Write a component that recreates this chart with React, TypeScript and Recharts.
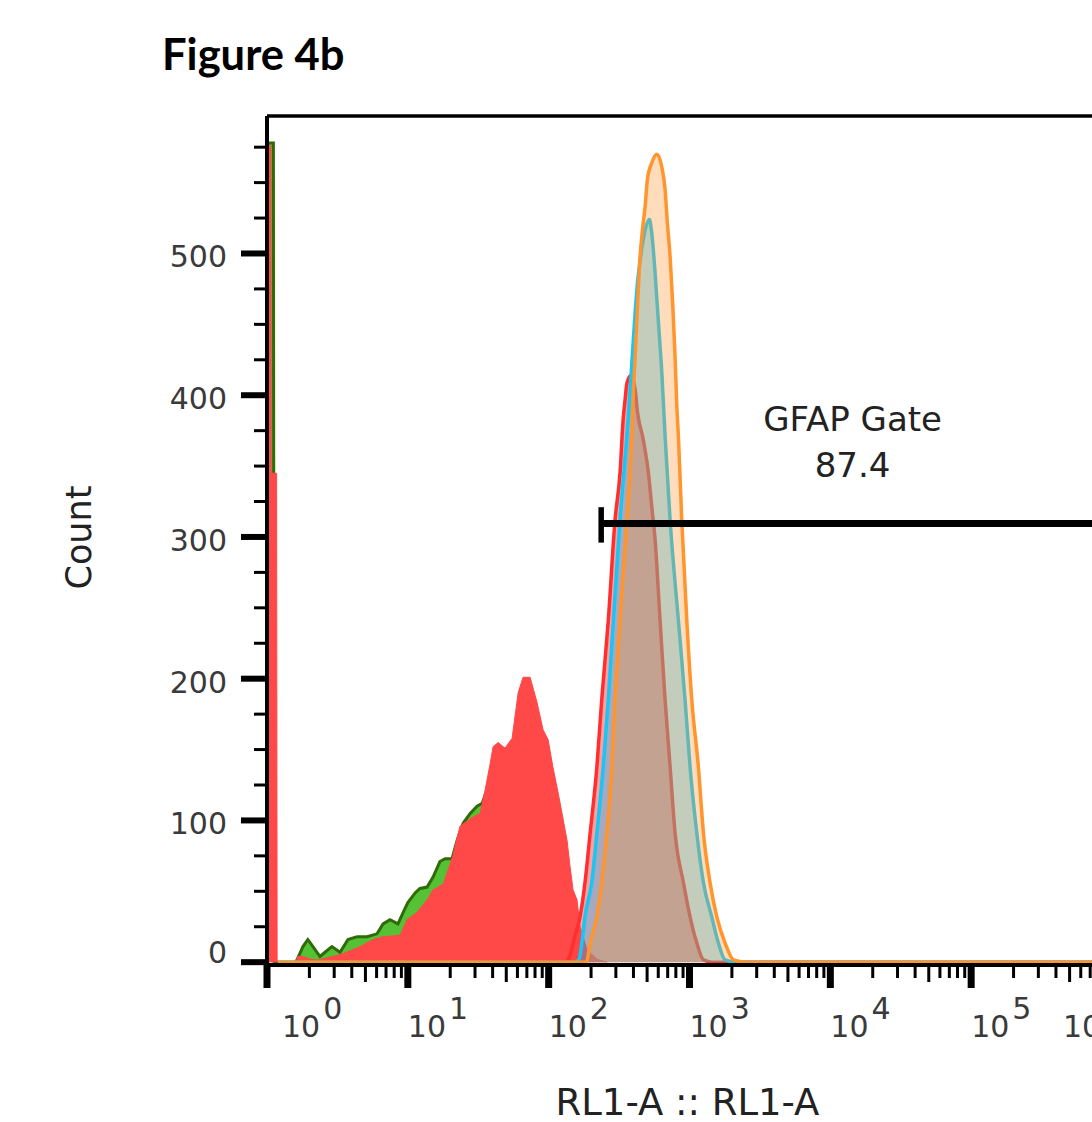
import React from "react";
import { Area, ComposedChart, ReferenceLine, XAxis, YAxis } from "recharts";

type Pt = [number, number];

// [RL1-A intensity, count]
const greenControl: Pt[] = [
  [1, 578], [1.11, 578], [1.125, 0], [1.6, 0], [1.63, 1.5], [1.8, 11], [1.95, 16],
  [2.12, 11], [2.38, 4], [2.58, 7], [2.89, 11], [3.3, 7], [3.76, 16], [4.36, 18],
  [5.13, 18], [6.04, 20], [6.67, 27], [7.47, 30], [8.51, 27], [9.25, 35], [10, 42],
  [11.3, 49], [12.2, 52], [13.7, 53], [15.1, 60], [16.9, 71], [18.4, 73], [20.6, 73],
  [22.4, 86], [24.7, 98], [27.7, 105], [31, 110], [33.7, 112], [38.4, 128], [55, 145],
  [66, 180], [100, 140], [149, 35], [185, 0],
];

const redControl: Pt[] = [
  [1, 576], [1.065, 576], [1.07, 345], [1.17, 345], [1.18, 0], [1.6, 0], [1.66, 4],
  [1.8, 4], [2.05, 2], [2.3, 1.5], [2.67, 3], [3.47, 6], [4.58, 11], [5.66, 16],
  [6.67, 18], [8.81, 19], [9.86, 30], [11.6, 35], [13.7, 44], [15.1, 51], [17.8, 55],
  [20.9, 75], [22.4, 88], [23.5, 96], [28.6, 102], [32.6, 105], [35.3, 121], [38.4, 140],
  [40.3, 152], [43.8, 155], [49, 151], [55, 158], [60.7, 190], [65.8, 201], [73.8, 201],
  [82.8, 183], [91.2, 164], [99.1, 157], [107, 138], [117, 119], [126, 102], [135, 86],
  [142, 67], [149, 51], [159, 44], [167, 25], [187, 9], [221, 2], [260, 0],
];

const redSample: Pt[] = [
  [133, 0], [142, 5], [154, 19], [167, 32], [181, 56], [197, 91], [220, 138], [238, 185],
  [265, 241], [296, 312], [321, 345], [338, 383], [349, 397], [360, 409], [385, 414],
  [414, 402], [423, 392], [471, 368], [511, 345], [540, 321], [570, 298], [618, 241],
  [671, 185], [728, 138], [790, 91], [906, 56], [1009, 32], [1127, 13.5], [1256, 1.6],
  [1446, 0], [1000000, 0],
];

const blueSample: Pt[] = [
  [1.2, 0], [150, 0], [164, 1.6], [172, 13.5], [181, 32], [202, 56], [220, 91], [244, 138],
  [265, 185], [288, 241], [321, 312], [359, 371], [372, 392], [383, 411], [396, 434],
  [411, 458], [427, 479], [446, 495], [488, 518], [519, 524], [540, 514], [570, 486],
  [602, 451], [636, 416], [671, 371], [728, 312], [834, 241], [930, 185], [1009, 138],
  [1127, 91], [1256, 56], [1439, 32], [1604, 13.5], [1790, 1.6], [2108, 0], [1000000, 0],
];

const orangeSample: Pt[] = [
  [1.2, 0], [185, 0], [197, 13.5], [220, 32], [238, 56], [259, 91], [281, 138], [296, 185],
  [321, 241], [359, 312], [389, 371], [400, 404], [411, 427], [427, 463], [446, 498],
  [466, 519], [484, 533], [502, 552], [540, 564], [586, 570], [636, 561], [671, 545],
  [697, 521], [728, 498], [761, 463], [790, 427], [813, 392], [834, 371], [881, 312],
  [957, 241], [1038, 185], [1156, 138], [1256, 91], [1400, 56], [1563, 32], [1790, 13.5],
  [2051, 1.6], [2483, 0], [1000000, 0],
];

const decades = [1, 10, 100, 1000, 10000, 100000, 1000000];
const minorSteps = [2, 3, 4, 5, 6, 7, 8, 9];
const countTicks = [
  0, 25, 50, 75, 100, 125, 150, 175, 200, 225, 250, 275, 300, 325, 350, 375, 400,
  425, 450, 475, 500, 525, 550, 575,
];

const gateStart = 236;
const gateEnd = 1000000;
const gateCount = 309.5;
const gateBar: [number, number] = [296, 321];
const gateName = "GFAP Gate";
const gatePercent = "87.4";

const xTicks = decades.flatMap((d) =>
  d === 1000000 ? [d] : [d, ...minorSteps.map((s) => s * d)],
);

const rows = (pts: Pt[]) => pts.map(([value, count]) => ({ value, count }));

const FONT = "'DejaVu Sans', sans-serif";

function XTick({ x, y, payload }: any) {
  const v = payload.value as number;
  const exp = Math.floor(Math.log10(v) + 1e-9);
  const m = Math.round(v / Math.pow(10, exp));
  const len = m === 1 ? 23 : m === 5 ? 17 : 13;
  // edge labels are nudged inward, like FlowJo does
  const dx = m !== 1 ? 0 : exp === 0 ? 15 : exp === 6 ? -49 : 0;
  return (
    <g>
      <line
        x1={x}
        x2={x}
        y1={y}
        y2={y + len}
        stroke="#000"
        strokeWidth={m === 1 ? 7 : 3}
      />
      {m === 1 && (
        <text x={x + dx} y={y + 72} fontSize={30} fontFamily={FONT} fill="#3a3a3a">
          10
          <tspan dx={3} dy={-18}>
            {exp}
          </tspan>
        </text>
      )}
    </g>
  );
}

function YTick({ x, y, payload }: any) {
  const v = payload.value as number;
  const major = v % 100 === 0;
  return (
    <g>
      <line
        x1={x - (major ? 26 : 13)}
        x2={x}
        y1={y}
        y2={y}
        stroke="#000"
        strokeWidth={major ? 6 : 3}
      />
      {major && (
        <text
          x={x - 40}
          y={y + (v === 0 ? 1 : 14)}
          fontSize={30}
          fontFamily={FONT}
          fill="#3a3a3a"
          textAnchor="end"
        >
          {v}
        </text>
      )}
    </g>
  );
}

function GateLabel({ viewBox }: any) {
  const cx = viewBox.x + viewBox.width / 2;
  return (
    <g fontFamily={FONT} fontSize={34} fill="#222" textAnchor="middle">
      <text x={cx - 4} y={viewBox.y - 92}>
        {gateName}
      </text>
      <text x={cx - 4} y={viewBox.y - 46}>
        {gatePercent}
      </text>
    </g>
  );
}

export default function App() {
  return (
    <div
      style={{
        position: "absolute",
        left: 0,
        top: 0,
        width: 1092,
        height: 1122,
        overflow: "hidden",
        background: "#fff",
      }}
    >
      <svg
        width={1092}
        height={100}
        style={{ position: "absolute", left: 0, top: 0 }}
      >
        <text
          x={162}
          y={70}
          fontFamily="Lato, 'Open Sans', sans-serif"
          fontWeight={700}
          fontSize={43.5}
          fill="#000"
        >
          Figure 4b
        </text>
      </svg>
      <ComposedChart
        width={1122}
        height={1122}
        margin={{ top: 116, right: 10, bottom: 97, left: 190 }}
      >
        <XAxis
          type="number"
          dataKey="value"
          scale="log"
          domain={[1, 1000000]}
          allowDataOverflow
          ticks={xTicks}
          interval={0}
          tick={(p: any) => <XTick {...p} />}
          tickLine={false}
          tickSize={0}
          tickMargin={0}
          height={60}
          axisLine={{ stroke: "#000", strokeWidth: 4 }}
          label={(p: any) => (
            <text
              x={p.viewBox.x + p.viewBox.width / 2 - 2}
              y={p.viewBox.y + 150}
              textAnchor="middle"
              fontFamily={FONT}
              fontSize={37}
              fill="#222"
            >
              RL1-A :: RL1-A
            </text>
          )}
        />
        <YAxis
          type="number"
          domain={[-2, 597]}
          allowDataOverflow
          ticks={countTicks}
          interval={0}
          tick={(p: any) => <YTick {...p} />}
          tickLine={false}
          tickSize={0}
          tickMargin={0}
          width={77}
          axisLine={{ stroke: "#000", strokeWidth: 4 }}
          label={(p: any) => {
            const cy = p.viewBox.y + p.viewBox.height / 2 - 3;
            return (
              <text
                x={91}
                y={cy}
                transform={`rotate(-90 91 ${cy})`}
                textAnchor="middle"
                fontFamily={FONT}
                fontSize={35}
                fill="#222"
              >
                Count
              </text>
            );
          }}
        />
        <Area
          data={rows(greenControl)}
          dataKey="count"
          type="linear"
          stroke="#2f6b06"
          strokeWidth={3}
          fill="#55c236"
          fillOpacity={1}
          dot={false}
          activeDot={false}
          isAnimationActive={false}
        />
        <Area
          data={rows(redControl)}
          dataKey="count"
          type="linear"
          stroke="#ff4848"
          strokeWidth={1}
          fill="#ff4848"
          fillOpacity={1}
          dot={false}
          activeDot={false}
          isAnimationActive={false}
        />
        <Area
          data={rows(redSample)}
          dataKey="count"
          type="monotone"
          stroke="#ff2f2f"
          strokeWidth={3.5}
          fill="#ff4040"
          fillOpacity={0.5}
          dot={false}
          activeDot={false}
          isAnimationActive={false}
        />
        <Area
          data={rows(blueSample)}
          dataKey="count"
          type="monotone"
          stroke="#16c6f5"
          strokeWidth={3.5}
          fill="#00bcff"
          fillOpacity={0.34}
          dot={false}
          activeDot={false}
          isAnimationActive={false}
        />
        <Area
          data={rows(orangeSample)}
          dataKey="count"
          type="monotone"
          stroke="#ff952c"
          strokeWidth={3.5}
          fill="#ff9933"
          fillOpacity={0.33}
          dot={false}
          activeDot={false}
          isAnimationActive={false}
        />
        <ReferenceLine y={597} stroke="#000" strokeWidth={3.5} />
        <ReferenceLine
          segment={[
            { x: gateStart, y: gateCount },
            { x: gateEnd, y: gateCount },
          ]}
          stroke="#000"
          strokeWidth={7}
          label={(p: any) => <GateLabel {...p} />}
        />
        <ReferenceLine
          segment={[
            { x: gateStart, y: gateBar[0] },
            { x: gateStart, y: gateBar[1] },
          ]}
          stroke="#000"
          strokeWidth={5.5}
        />
      </ComposedChart>
    </div>
  );
}
